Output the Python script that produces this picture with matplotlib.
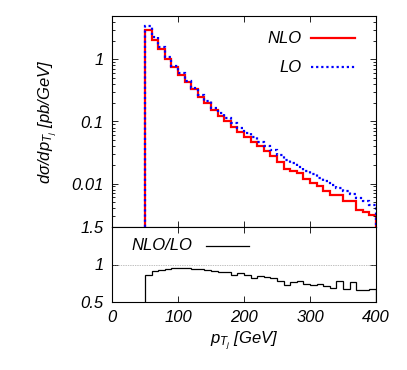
import numpy as np
import matplotlib
matplotlib.use('Agg')
import matplotlib.pyplot as plt
from matplotlib.ticker import LogLocator, NullFormatter, FixedLocator

plt.rcParams['font.family'] = ['Liberation Sans', 'DejaVu Sans']
plt.rcParams['font.style'] = 'italic'
plt.rcParams['mathtext.fontset'] = 'custom'
plt.rcParams['mathtext.it'] = 'Liberation Sans:italic'
plt.rcParams['mathtext.rm'] = 'Liberation Sans:italic'

# бины по p_T (ГэВ)
edges = np.arange(50, 401, 10)

# NLO, pb/GeV
nlo = [3.0, 2.07, 1.48, 1.03, 0.755, 0.567, 0.432, 0.328, 0.252, 0.198,
       0.153, 0.123, 0.103, 0.083, 0.069, 0.056, 0.046, 0.0397, 0.0340, 0.0280,
       0.0226, 0.0175, 0.0162, 0.0146, 0.0118, 0.0103, 0.0093, 0.0077, 0.0065, 0.0065,
       0.0052, 0.0052, 0.0038, 0.00347, 0.00307]

# NLO/LO
ratio = [0.865, 0.91, 0.93, 0.943, 0.952, 0.953, 0.95, 0.942, 0.935, 0.925,
         0.915, 0.905, 0.9, 0.865, 0.886, 0.855, 0.822, 0.848, 0.84, 0.82,
         0.785, 0.722, 0.765, 0.776, 0.735, 0.73, 0.745, 0.712, 0.69, 0.775,
         0.68, 0.765, 0.66, 0.665, 0.678]

nlo = np.array(nlo)
ratio = np.array(ratio)
lo = nlo / ratio

fs = 12
fig = plt.figure(figsize=(4.07, 3.70), dpi=100)
ax1 = fig.add_axes([112/407, 1 - 227/370, 264/407, 211/370])
ax2 = fig.add_axes([112/407, 1 - 302/370, 264/407, 75/370], sharex=ax1)

# --- верхняя панель ---
ax1.stairs(nlo, edges, baseline=1e-5, color='red', lw=1.6, label='NLO')
ax1.stairs(lo, edges, baseline=1e-5, color='blue', lw=1.6,
           linestyle=(0, (1, 1.3)), label='LO')
ax1.set_yscale('log')
ax1.set_xlim(0, 400)
ax1.set_ylim(0.002, 5)
ax1.yaxis.set_major_locator(FixedLocator([0.01, 0.1, 1]))
ax1.set_yticklabels(['0.01', '0.1', '1'], fontsize=fs)
ax1.yaxis.set_minor_locator(LogLocator(base=10, subs=np.arange(2, 10)))
ax1.yaxis.set_minor_formatter(NullFormatter())
ax1.tick_params(labelbottom=False)
ax1.set_ylabel(r'$d\sigma/dp_{T_j}\ [pb/GeV]$', fontsize=fs, labelpad=8)

# легенда вручную, как в gnuplot
ax1.text(0.72, 0.895, 'NLO', transform=ax1.transAxes, ha='right', va='center', fontsize=fs)
ax1.plot([0.755, 0.92], [0.895, 0.895], transform=ax1.transAxes, color='red', lw=1.6)
ax1.text(0.72, 0.758, 'LO', transform=ax1.transAxes, ha='right', va='center', fontsize=fs)
ax1.plot([0.755, 0.92], [0.758, 0.758], transform=ax1.transAxes, color='blue', lw=1.6,
         linestyle=(0, (1, 1.3)))

# --- нижняя панель ---
ax2.stairs(ratio, edges, baseline=0.0, color='black', lw=0.9)
ax2.axhline(1.0, color='gray', lw=0.5, linestyle=(0, (1, 1.5)))
ax2.set_ylim(0.5, 1.5)
ax2.set_yticks([0.5, 1, 1.5])
ax2.set_yticklabels(['0.5', '1', '1.5'], fontsize=fs)
ax2.set_xticks([0, 100, 200, 300, 400])
ax2.set_xticklabels(['0', '100', '200', '300', '400'], fontsize=fs)
ax2.set_xlabel(r'$p_{T_j}\ [GeV]$', fontsize=fs, labelpad=3)
ax2.text(0.075, 0.75, 'NLO/LO', transform=ax2.transAxes, ha='left', va='center', fontsize=fs)
ax2.plot([0.355, 0.52], [0.75, 0.75], transform=ax2.transAxes, color='black', lw=0.9)

for ax in (ax1, ax2):
    ax.tick_params(which='both', direction='in', top=True, right=True, width=0.6)
    ax.tick_params(which='major', length=4, pad=6)
    ax.tick_params(which='minor', length=2)
    for s in ax.spines.values():
        s.set_linewidth(0.8)

fig.savefig('out.png', dpi=100)
